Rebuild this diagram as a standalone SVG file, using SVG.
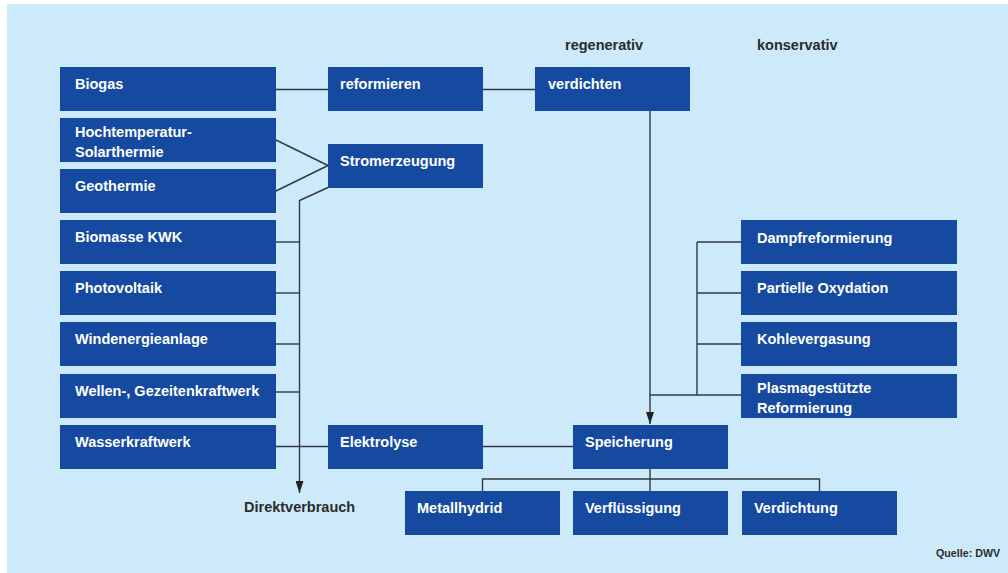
<svg xmlns="http://www.w3.org/2000/svg" width="1008" height="573" viewBox="0 0 1008 573">
<defs>
<style>
.bg{fill:#cdeafb}
.box{fill:#164aa0}
.t{font-family:"Liberation Sans",Arial,sans-serif;font-weight:bold;font-size:14.5px;fill:#ffffff}
.l{font-family:"Liberation Sans",Arial,sans-serif;font-weight:bold;font-size:14.5px;fill:#2b2b2b}
.q{font-family:"Liberation Sans",Arial,sans-serif;font-weight:bold;font-size:10.7px;fill:#2b2b2b}
.c{fill:none;stroke:#34383d;stroke-width:1.4}
</style>
<marker id="arr" markerWidth="12" markerHeight="8" refX="12" refY="4" orient="auto" markerUnits="userSpaceOnUse" viewBox="0 0 12 8">
<path d="M0,0 L12,4 L0,8 Z" fill="#222"/>
</marker>
</defs>
<rect class="bg" x="7" y="4" width="1001" height="569"/>

<g id="connectors">
<line class="c" x1="276" y1="89.5" x2="328" y2="89.5"/>
<line class="c" x1="483" y1="89.5" x2="535" y2="89.5"/>
<line class="c" x1="276" y1="140" x2="328" y2="165.5"/>
<line class="c" x1="276" y1="191" x2="328" y2="165.5"/>
<polyline class="c" points="328,187.5 299.5,200.5 299.5,493" marker-end="url(#arr)"/>
<line class="c" x1="276" y1="242" x2="299.5" y2="242"/>
<line class="c" x1="276" y1="293" x2="299.5" y2="293"/>
<line class="c" x1="276" y1="344" x2="299.5" y2="344"/>
<line class="c" x1="276" y1="392" x2="299.5" y2="392"/>
<line class="c" x1="276" y1="446.5" x2="328" y2="446.5"/>
<line class="c" x1="483" y1="446.5" x2="573" y2="446.5"/>
<line class="c" x1="650" y1="111" x2="650" y2="424" marker-end="url(#arr)"/>
<line class="c" x1="697" y1="242" x2="697" y2="395"/>
<line class="c" x1="697" y1="242" x2="741" y2="242"/>
<line class="c" x1="697" y1="293" x2="741" y2="293"/>
<line class="c" x1="697" y1="344" x2="741" y2="344"/>
<line class="c" x1="650" y1="395" x2="741" y2="395"/>
<line class="c" x1="650" y1="469" x2="650" y2="491"/>
<polyline class="c" points="482.5,491 482.5,479 819.5,479 819.5,491"/>
</g>

<g id="biogas"><rect class="box" x="60" y="67" width="216" height="44"/><text class="t" x="75" y="89">Biogas</text></g>
<g id="hochtemperatur"><rect class="box" x="60" y="118" width="216" height="44"/><text class="t" x="75" y="137">Hochtemperatur-</text><text class="t" x="75" y="156.5">Solarthermie</text></g>
<g id="geothermie"><rect class="box" x="60" y="169" width="216" height="44"/><text class="t" x="75" y="190.5">Geothermie</text></g>
<g id="biomasse"><rect class="box" x="60" y="220" width="216" height="44"/><text class="t" x="75" y="242">Biomasse KWK</text></g>
<g id="photovoltaik"><rect class="box" x="60" y="271" width="216" height="44"/><text class="t" x="75" y="293">Photovoltaik</text></g>
<g id="wind"><rect class="box" x="60" y="322" width="216" height="44"/><text class="t" x="75" y="344">Windenergieanlage</text></g>
<g id="wellen"><rect class="box" x="60" y="374" width="216" height="44"/><text class="t" x="75" y="396">Wellen-, Gezeitenkraftwerk</text></g>
<g id="wasser"><rect class="box" x="60" y="425" width="216" height="44"/><text class="t" x="75" y="447">Wasserkraftwerk</text></g>

<g id="reformieren"><rect class="box" x="328" y="67" width="155" height="44"/><text class="t" x="340" y="89">reformieren</text></g>
<g id="stromerzeugung"><rect class="box" x="328" y="144" width="155" height="44"/><text class="t" x="340" y="166">Stromerzeugung</text></g>
<g id="elektrolyse"><rect class="box" x="328" y="425" width="155" height="44"/><text class="t" x="340" y="447">Elektrolyse</text></g>
<g id="verdichten"><rect class="box" x="535" y="67" width="155" height="44"/><text class="t" x="548" y="89">verdichten</text></g>
<g id="speicherung"><rect class="box" x="573" y="425" width="155" height="44"/><text class="t" x="585" y="447">Speicherung</text></g>

<g id="dampf"><rect class="box" x="741" y="220" width="216" height="44"/><text class="t" x="757" y="242.5">Dampfreformierung</text></g>
<g id="partielle"><rect class="box" x="741" y="271" width="216" height="44"/><text class="t" x="757" y="293">Partielle Oxydation</text></g>
<g id="kohle"><rect class="box" x="741" y="322" width="216" height="44"/><text class="t" x="757" y="344">Kohlevergasung</text></g>
<g id="plasma"><rect class="box" x="741" y="374" width="216" height="44"/><text class="t" x="757" y="392.5">Plasmagestützte</text><text class="t" x="757" y="412.5">Reformierung</text></g>

<g id="metallhydrid"><rect class="box" x="405" y="491" width="155" height="44"/><text class="t" x="417" y="513">Metallhydrid</text></g>
<g id="verfluessigung"><rect class="box" x="573" y="491" width="155" height="44"/><text class="t" x="585" y="513">Verflüssigung</text></g>
<g id="verdichtung"><rect class="box" x="742" y="491" width="155" height="44"/><text class="t" x="754" y="513">Verdichtung</text></g>

<g id="labels">
<text class="l" x="565" y="50">regenerativ</text>
<text class="l" x="757" y="50">konservativ</text>
<text class="l" x="244" y="512">Direktverbrauch</text>
<text class="q" x="936" y="557">Quelle: DWV</text>
</g>
</svg>
